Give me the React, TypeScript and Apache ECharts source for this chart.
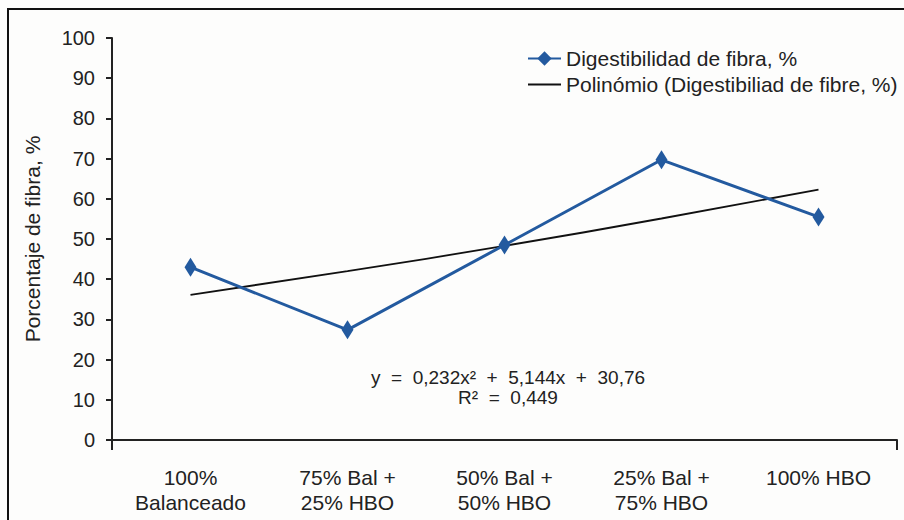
import React, { useEffect, useRef } from "react";
import * as echarts from "echarts";

// Treatments (diet mixes) along the x axis
const categories = [
  "100%\nBalanceado",
  "75% Bal +\n25% HBO",
  "50% Bal +\n50% HBO",
  "25% Bal +\n75% HBO",
  "100% HBO",
];

// Fibre digestibility, %
const digestibilidad = [43.0, 27.4, 48.5, 69.7, 55.5];

// Polynomial trend values at each treatment
const tendencia = [36.1, 42.0, 48.3, 55.1, 62.3];

const yTicks = { min: 0, max: 100, interval: 10 };

const seriesNames = [
  "Digestibilidad de fibra, %",
  "Polinómio (Digestibiliad de fibre, %)",
];

const ecuacion = "y  =  0,232x²  +  5,144x  +  30,76";
const r2 = "R²  =  0,449";

const FONT = "'Liberation Sans', Arial, Helvetica, sans-serif";
const TEXT = "#222222";
const BLUE = "#235a9f";

export default function App() {
  const ref = useRef<HTMLDivElement>(null);

  useEffect(() => {
    if (!ref.current) return;
    const chart = echarts.init(ref.current, null, { renderer: "svg" });
    chart.setOption({
      animation: false,
      backgroundColor: "#fdfdfc",
      textStyle: { fontFamily: FONT },
      grid: { left: 112, right: 7, top: 38, bottom: 80, containLabel: false },
      legend: {
        orient: "vertical",
        left: 522,
        top: 43,
        itemWidth: 33,
        itemHeight: 18,
        itemGap: 5,
        data: [
          { name: seriesNames[0] },
          { name: seriesNames[1], itemStyle: { opacity: 0 } },
        ],
        textStyle: {
          fontFamily: FONT,
          fontSize: 21,
          color: TEXT,
        },
      },
      xAxis: [
        {
          type: "category",
          data: categories,
          boundaryGap: true,
          axisLine: { lineStyle: { color: "#222", width: 2 } },
          axisTick: {
            alignWithLabel: true,
            length: 10,
            lineStyle: { color: "#222", width: 2 },
          },
          axisLabel: {
            fontFamily: FONT,
            fontSize: 21,
            color: TEXT,
            margin: 25,
            lineHeight: 25,
            interval: 0,
          },
          splitLine: { show: false },
        },
        {
          // end ticks at the outer edges of the category band
          type: "value",
          position: "bottom",
          min: 0,
          max: 5,
          interval: 5,
          axisLine: { show: false },
          axisTick: { show: true, length: 10, lineStyle: { color: "#222", width: 2 } },
          axisLabel: { show: false },
          splitLine: { show: false },
        },
      ],
      yAxis: {
        type: "value",
        min: yTicks.min,
        max: yTicks.max,
        interval: yTicks.interval,
        name: "Porcentaje de fibra, %",
        nameLocation: "middle",
        nameGap: 69,
        nameTextStyle: { fontFamily: FONT, fontSize: 21, color: TEXT },
        axisLine: { show: true, lineStyle: { color: "#222", width: 2 } },
        axisTick: { show: true, length: 6, lineStyle: { color: "#222", width: 2 } },
        axisLabel: { fontFamily: FONT, fontSize: 20, color: TEXT, margin: 17 },
        splitLine: { show: false },
      },
      graphic: [
        {
          type: "rect",
          shape: { x: 8, y: 9, width: 1000, height: 600 },
          style: { fill: "none", stroke: "#111", lineWidth: 2 },
          silent: true,
        },
        {
          type: "text",
          x: 508,
          y: 367,
          style: {
            text: ecuacion + "\n" + r2,
            textAlign: "center",
            fontFamily: FONT,
            fontSize: 19,
            lineHeight: 20,
            fill: TEXT,
          },
          silent: true,
        },
      ],
      series: [
        {
          name: seriesNames[0],
          type: "line",
          data: digestibilidad,
          symbol: "diamond",
          symbolSize: [12, 19],
          itemStyle: { color: BLUE },
          lineStyle: { color: BLUE, width: 3 },
          z: 3,
        },
        {
          name: seriesNames[1],
          type: "line",
          data: tendencia,
          smooth: true,
          symbol: "none",
          itemStyle: { color: "#111" },
          lineStyle: { color: "#111", width: 1.8 },
          z: 2,
        },
      ],
    });
    return () => chart.dispose();
  }, []);

  return (
    <div
      ref={ref}
      style={{ position: "fixed", left: 0, top: 0, width: 904, height: 520 }}
    />
  );
}
